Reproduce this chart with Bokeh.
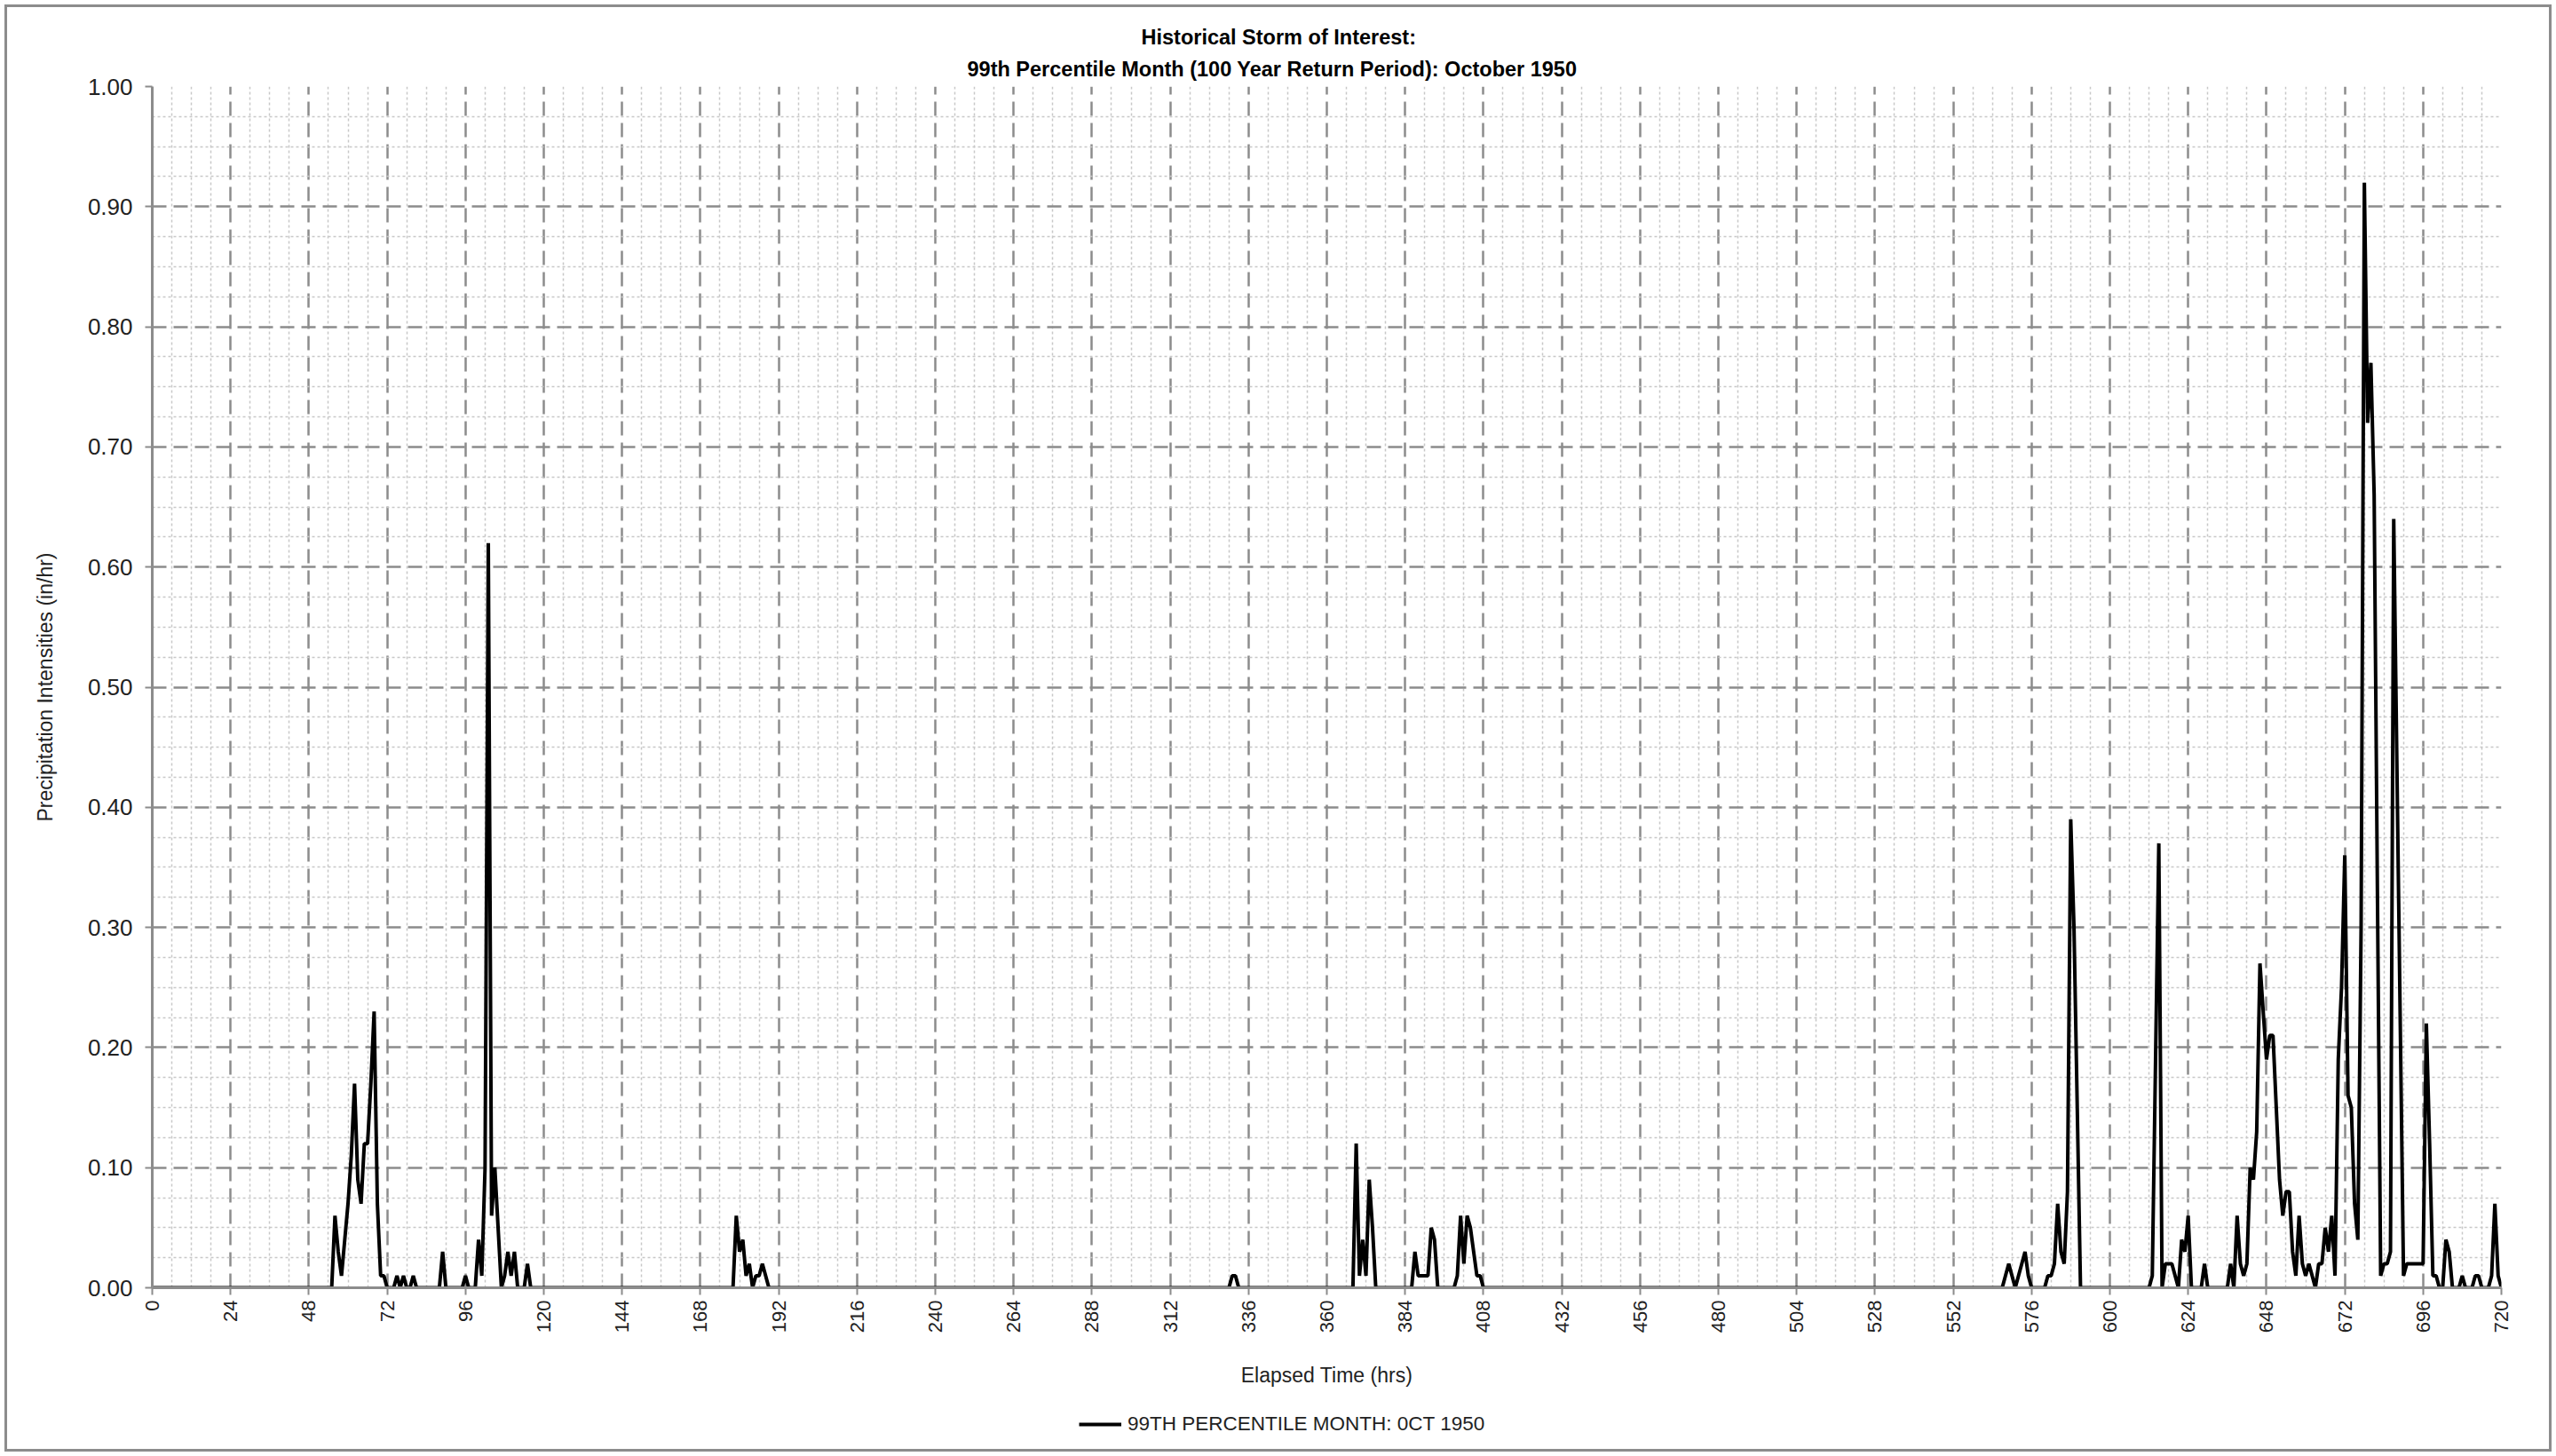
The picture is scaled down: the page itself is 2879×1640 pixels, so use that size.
import math
import numpy as np
from bokeh.plotting import figure
from bokeh.layouts import column
from bokeh.models import (Range1d, FixedTicker, PrintfTickFormatter, Title,
                          Legend, LegendItem)
from bokeh.embed import file_html
from bokeh.resources import INLINE

# ---- data: hourly precipitation intensity (in/hr), October 1950 ----
# Each burst is listed as its first hour and its consecutive hourly values;
# every hour not covered by a burst is dry (0.00).
burst_start = [55, 89, 96, 100, 178, 331, 368, 386, 399, 567, 580, 612, 636]
burst_values = [
    [0.00, 0.06, 0.03, 0.01, 0.04, 0.07, 0.11, 0.17, 0.09, 0.07,
     0.12, 0.12, 0.17, 0.23, 0.07, 0.01, 0.01, 0.00, 0.00, 0.00,
     0.01, 0.00, 0.01, 0.00, 0.00, 0.01],
    [0.03],
    [0.01],
    [0.04, 0.01, 0.10, 0.62, 0.06, 0.10, 0.05, 0.00, 0.01, 0.03,
     0.01, 0.03, 0.00, 0.00, 0.00, 0.02],
    [0.00, 0.06, 0.03, 0.04, 0.01, 0.02, 0.00, 0.01, 0.01, 0.02,
     0.01],
    [0.01, 0.01],
    [0.00, 0.12, 0.01, 0.04, 0.01, 0.09, 0.05],
    [0.00, 0.03, 0.01, 0.01, 0.01, 0.01, 0.05, 0.04],
    [0.00, 0.01, 0.06, 0.02, 0.06, 0.05, 0.03, 0.01, 0.01],
    [0.00, 0.01, 0.02, 0.01, 0.00, 0.01, 0.02, 0.03, 0.01],
    [0.00, 0.01, 0.01, 0.02, 0.07, 0.03, 0.02, 0.08, 0.39, 0.30,
     0.15],
    [0.00, 0.01, 0.19, 0.37, 0.00, 0.02, 0.02, 0.02, 0.01, 0.00,
     0.04, 0.03, 0.06, 0.00, 0.00, 0.00, 0.00, 0.02],
    [0.00, 0.02, 0.00, 0.06, 0.02, 0.01, 0.02, 0.10, 0.09, 0.13,   # 636-645
     0.27, 0.23, 0.19, 0.21, 0.21, 0.15, 0.09, 0.06, 0.08, 0.08,   # 646-655
     0.03, 0.01, 0.06, 0.02, 0.01, 0.02, 0.01, 0.00, 0.02, 0.02,   # 656-665
     0.05, 0.03, 0.06, 0.01, 0.19, 0.25, 0.36, 0.16, 0.15, 0.07,   # 666-675
     0.04, 0.30, 0.92, 0.72, 0.77, 0.66, 0.33, 0.01, 0.02, 0.02,   # 676-685
     0.03, 0.64, 0.43, 0.22, 0.01, 0.02, 0.02, 0.02, 0.02, 0.02,   # 686-695
     0.02, 0.22, 0.12, 0.01, 0.01, 0.00, 0.00, 0.04, 0.03, 0.00,   # 696-705
     0.00, 0.00, 0.01, 0.00, 0.00, 0.00, 0.01, 0.01, 0.00, 0.00,   # 706-715
     0.00, 0.01, 0.07, 0.01, 0.00],                                # 716-720
]

x_ticks = [0, 24, 48, 72, 96, 120, 144, 168, 192, 216, 240, 264, 288, 312,
           336, 360, 384, 408, 432, 456, 480, 504, 528, 552, 576, 600, 624,
           648, 672, 696, 720]
y_ticks = [0.0, 0.1, 0.2, 0.3, 0.4, 0.5, 0.6, 0.7, 0.8, 0.9, 1.0]

title_lines = ["Historical Storm of Interest:",
               "99th Percentile Month (100 Year Return Period): October  1950"]
x_title = "Elapsed Time (hrs)"
y_title = "Precipitation Intensities (in/hr)"
series_name = "99TH PERCENTILE MONTH: 0CT 1950"

hours = np.arange(0, 721)
intensity = np.zeros(len(hours))
for start, vals in zip(burst_start, burst_values):
    intensity[start:start + len(vals)] = vals

# ---- main chart ----
FONT = "Liberation Sans"
MAJOR = "#8c8c8c"
MINOR = "#c8c8c8"
TEXT = "#222222"
W = 2863
H_MAIN, H_KEY = 1560, 64

p = figure(width=W, height=H_MAIN,
           x_range=Range1d(0, 720), y_range=Range1d(0, 1.0),
           output_backend="svg", toolbar_location=None,
           min_border_left=163, min_border_right=54,
           min_border_top=89, min_border_bottom=H_MAIN - 1442)
p.title.visible = False
p.outline_line_color = None
p.background_fill_color = "white"
p.border_fill_color = "white"

x_minor = [t for t in range(0, 721, 6) if t % 24]
y_minor = [round(i * 0.025, 3) for i in range(41) if i % 4]
p.xaxis.ticker = FixedTicker(ticks=x_ticks, minor_ticks=x_minor)
p.yaxis.ticker = FixedTicker(ticks=y_ticks, minor_ticks=y_minor)
p.yaxis.formatter = PrintfTickFormatter(format="%.2f")

for g in (p.xgrid, p.ygrid):
    g.grid_line_color = MAJOR
    g.grid_line_width = 2.5
    g.grid_line_dash = "16 8"
    g.minor_grid_line_color = MINOR
    g.minor_grid_line_width = 1.5
    g.minor_grid_line_dash = "3 3"

for ax in (p.xaxis, p.yaxis):
    ax.axis_line_color = MAJOR
    ax.axis_line_width = 3
    ax.major_tick_line_color = MAJOR
    ax.major_tick_line_width = 2
    ax.major_tick_out = 8
    ax.major_tick_in = 0
    ax.minor_tick_out = 0
    ax.minor_tick_in = 0
    ax.major_label_text_font = FONT
    ax.major_label_text_color = TEXT
    ax.axis_label_text_font = FONT
    ax.axis_label_text_font_size = "23px"
    ax.axis_label_text_font_style = "normal"
    ax.axis_label_text_color = TEXT

p.yaxis.major_label_text_font_size = "26px"
p.yaxis.major_label_standoff = 14
p.yaxis.axis_label = y_title
p.yaxis.axis_label_standoff = 32

p.xaxis.major_label_text_font_size = "22px"
p.xaxis.major_label_orientation = math.pi / 2
p.xaxis.major_label_standoff = 6
p.xaxis.axis_label = x_title
p.xaxis.axis_label_standoff = 32

p.line(hours, intensity, line_color="black", line_width=4)

# two-line title; the line added first sits closest to the plot
for text, offset, standoff in ((title_lines[1], 918, 14),
                               (title_lines[0], 1114, 2)):
    p.add_layout(Title(text=text, align="left", offset=offset,
                       text_font=FONT, text_font_size="23.5px",
                       text_font_style="bold", text_color="black",
                       standoff=standoff), "above")

# ---- legend strip under the chart ----
# The same series is plotted in the strip with its y range above the data,
# so only its legend key shows.
key_fig = figure(width=W, height=H_KEY,
                 x_range=Range1d(0, 720), y_range=Range1d(2, 3),
                 x_axis_location=None, y_axis_location=None,
                 output_backend="svg", toolbar_location=None,
                 min_border_left=0, min_border_right=0,
                 min_border_top=0, min_border_bottom=0)
key_fig.title.visible = False
key_fig.grid.visible = False
key_fig.outline_line_color = None
key_fig.background_fill_color = "white"
key_fig.border_fill_color = "white"
key = key_fig.line(hours, intensity, line_color="black", line_width=4)

legend = Legend(items=[LegendItem(label=series_name, renderers=[key])],
                location=(1044, 15))
legend.border_line_color = None
legend.background_fill_alpha = 0
legend.padding = 0
legend.margin = 0
legend.glyph_width = 48
legend.glyph_height = 24
legend.label_standoff = 7
legend.label_text_font = FONT
legend.label_text_font_size = "22.5px"
legend.label_text_color = TEXT
key_fig.add_layout(legend)

page = column(p, key_fig, spacing=0,
              styles={"border": "3px solid #8c8c8c", "margin": "5px"})

open("out.html", "w").write(file_html(page, INLINE))
